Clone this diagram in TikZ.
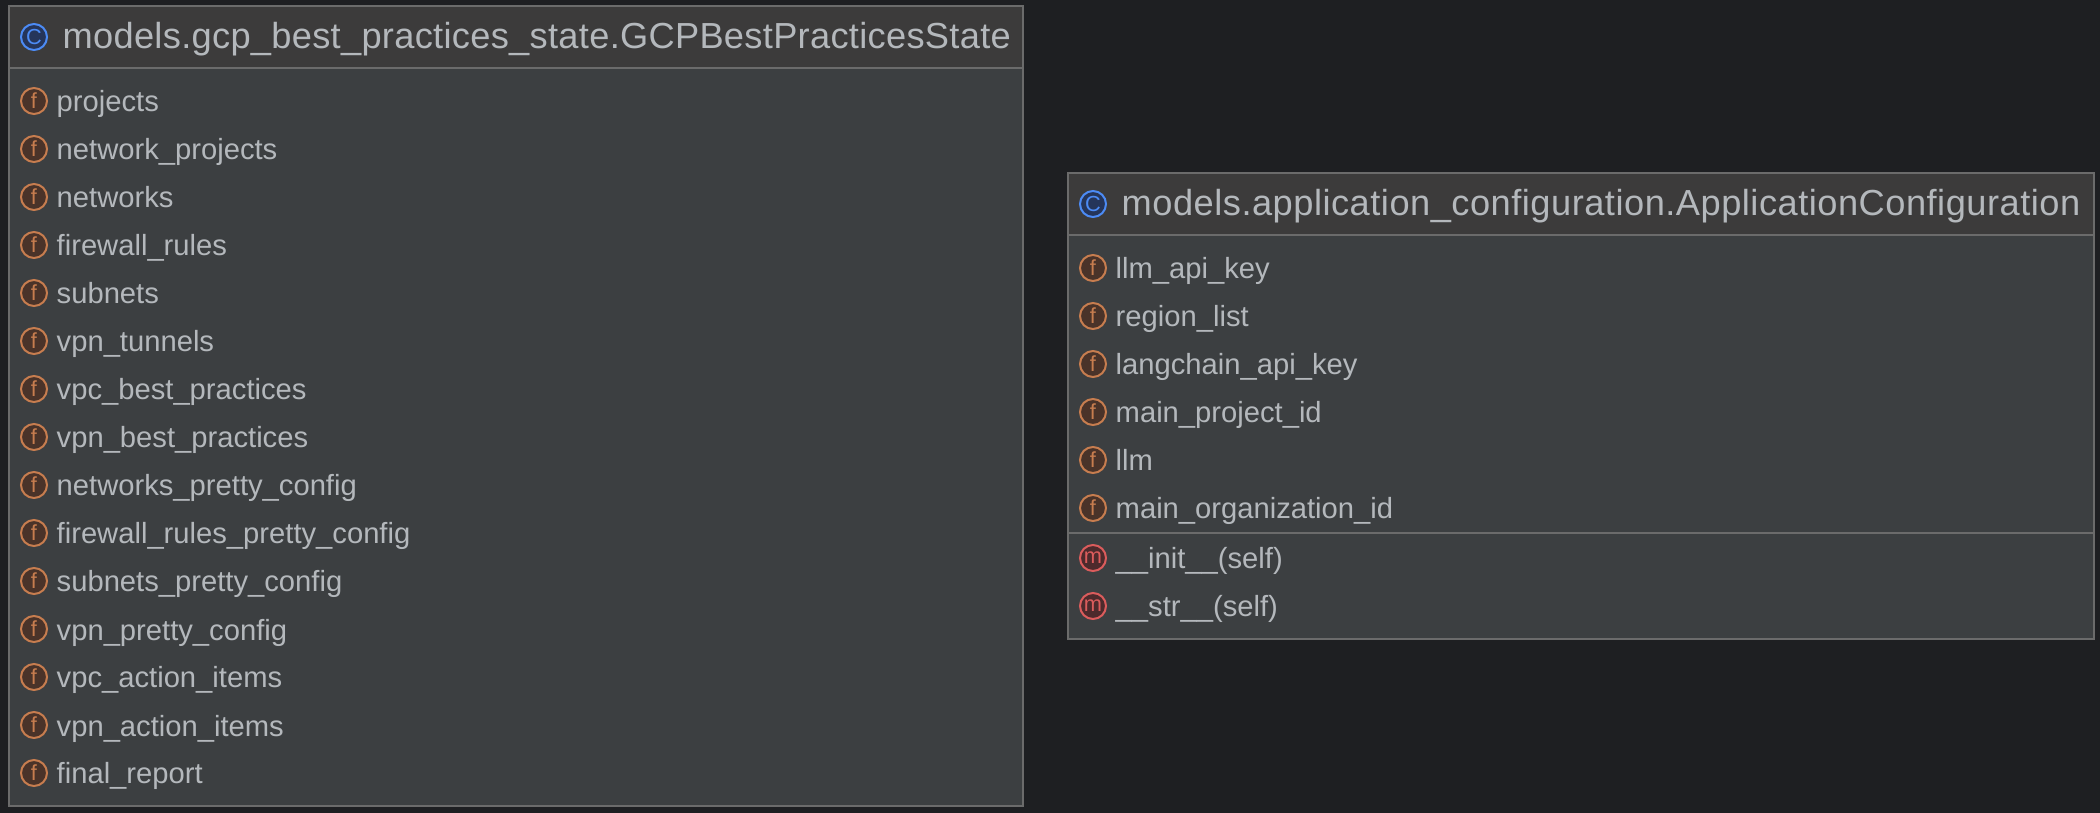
\documentclass[tikz,border=0pt]{standalone}
\usepackage{fontspec}
\setmainfont{Liberation Sans}
\usetikzlibrary{positioning}
\tikzstyle{diagram} = [x = .01cm, y = -.01cm]
\definecolor{canvasColor}{HTML}{1E1F22}
\definecolor{headColor}{HTML}{3C3B3B}
\definecolor{bodyColor}{HTML}{3C3F41}
\definecolor{edgeColor}{HTML}{6B6B6B}
\definecolor{labelColor}{HTML}{B4B8BC}
\definecolor{fieldRing}{HTML}{C77D4F}
\definecolor{fieldFill}{HTML}{4A3329}
\definecolor{methodRing}{HTML}{DB5C5C}
\definecolor{methodFill}{HTML}{4D2A2C}
\definecolor{classRing}{HTML}{4C8BF5}
\definecolor{classFill}{HTML}{25355A}
\tikzstyle{boxBody} = [fill=bodyColor]
\tikzstyle{boxHead} = [fill=headColor]
\tikzstyle{boxEdge} = [draw=edgeColor, line width=.02cm]
\tikzstyle{iconBase} = [circle, minimum size=.26cm, inner sep=0pt, line width=.02cm, font=\fontsize{6.2}{7}\selectfont]
\tikzstyle{fieldIcon} = [iconBase, draw=fieldRing, fill=fieldFill, text=fieldRing]
\tikzstyle{methodIcon} = [iconBase, draw=methodRing, fill=methodFill, text=methodRing]
\tikzstyle{classIcon} = [iconBase, draw=classRing, fill=classFill, text=classRing]
\tikzstyle{rowText} = [anchor=base west, inner sep=0pt, text=labelColor, font=\fontsize{8.3}{9}\selectfont]
\tikzstyle{headText} = [anchor=base west, inner sep=0pt, text=labelColor]
% #1 left, #2 top, #3 right, #4 bottom, #5 line under the head
\newcommand{\classBox}[5]{
  \fill [boxBody] (#1,#2) rectangle (#3,#4);
  \fill [boxHead] (#1,#2) rectangle (#3,#5);
  \draw [boxEdge] (#1,#2) rectangle (#3,#4);
  \draw [boxEdge] (#1,#5) -- (#3,#5);
}
% #1 node name, #2 icon x, #3 y, #4 style, #5 letter, #6 text
\newcommand{\classRow}[6]{
  \node [#4] (#1Icon) at (#2,#3) {#5};
  \node [rowText] (#1) at (#2 + 22,#3 + 11) {#6};
}
\begin{document}
\begin{tikzpicture}[diagram]
  \useasboundingbox [fill=canvasColor] (0,0) rectangle (2100,813);
  \classBox{9}{6}{1023}{806}{68}
  \node [classIcon] (stateIcon) at (34,37) {C};
  \node [headText, font=\fontsize{10.3}{11}\selectfont\addfontfeature{LetterSpace=0.85}] (stateHead) at (62,49) {models.gcp\_best\_practices\_state.GCPBestPracticesState};
  \foreach \field [count=\i from 0] in {projects, network\_projects, networks, firewall\_rules, subnets, vpn\_tunnels, vpc\_best\_practices, vpn\_best\_practices, networks\_pretty\_config, firewall\_rules\_pretty\_config, subnets\_pretty\_config, vpn\_pretty\_config, vpc\_action\_items, vpn\_action\_items, final\_report} {
    \pgfmathsetmacro{\rowY}{101 + 48 * \i}
    \classRow{state\i}{34}{\rowY}{fieldIcon}{f}{\field}
  }
  \classBox{1068}{173}{2094}{639}{235}
  \draw [boxEdge] (1068,533) -- (2094,533);
  \node [classIcon] (configIcon) at (1093,204) {C};
  \node [headText, font=\fontsize{10.3}{11}\selectfont\addfontfeature{LetterSpace=1.4}] (configHead) at (1121,216) {models.application\_configuration.ApplicationConfiguration};
  \foreach \field [count=\i from 0] in {llm\_api\_key, region\_list, langchain\_api\_key, main\_project\_id, llm, main\_organization\_id} {
    \pgfmathsetmacro{\rowY}{268 + 48 * \i}
    \classRow{config\i}{1093}{\rowY}{fieldIcon}{f}{\field}
  }
  \classRow{configInit}{1093}{558}{methodIcon}{m}{\_\_init\_\_(self)}
  \classRow{configStr}{1093}{606}{methodIcon}{m}{\_\_str\_\_(self)}
\end{tikzpicture}
\end{document}
